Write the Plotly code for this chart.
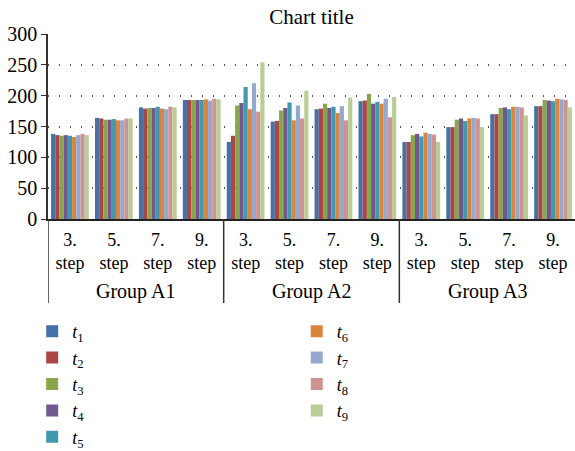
import plotly.graph_objects as go

groups = ["Group A1", "Group A2", "Group A3"]
steps = ["3.<br>step", "5.<br>step", "7.<br>step", "9.<br>step"]
series_names = ["t1", "t2", "t3", "t4", "t5", "t6", "t7", "t8", "t9"]

# values per series: 12 entries (A1: 3,5,7,9 steps; A2: ...; A3: ...)
t1 = [138, 164, 181, 193, 125, 158, 178, 191, 125, 149, 170, 183]
t2 = [136, 163, 179, 193, 135, 159, 179, 192, 125, 149, 170, 183]
t3 = [135, 161, 180, 193, 184, 176, 187, 203, 136, 161, 180, 193]
t4 = [136, 161, 180, 193, 188, 180, 180, 187, 138, 163, 181, 192]
t5 = [135, 162, 182, 193, 214, 189, 182, 190, 134, 159, 178, 191]
t6 = [133, 160, 179, 194, 178, 160, 172, 187, 140, 163, 182, 195]
t7 = [136, 160, 178, 192, 220, 184, 183, 195, 138, 164, 182, 194]
t8 = [138, 163, 182, 195, 174, 163, 160, 165, 137, 163, 181, 193]
t9 = [136, 163, 181, 194, 254, 208, 197, 198, 125, 149, 168, 181]
series_values = [t1, t2, t3, t4, t5, t6, t7, t8, t9]
colors = ["#4572A7", "#AA4643", "#89A54E", "#71588F", "#4198AF",
          "#DB843D", "#93A9CF", "#D19392", "#B9CD96"]
y_ticks = [0, 50, 100, 150, 200, 250, 300]

# unique category keys, one per (group, step)
cat_keys = ["%s|%s" % (g, s) for g in groups for s in steps]
cat_text = [s for _ in groups for s in steps]
n_steps = len(steps)

FONT = "Liberation Serif"
fig = go.Figure()
for i, (name, vals) in enumerate(zip(series_names, series_values)):
    label = "<i>t</i><sub>%s</sub>" % name[1:]
    fig.add_trace(go.Bar(
        x=cat_keys, y=vals, name=label,
        marker=dict(color=colors[i], line=dict(width=0)),
        legend="legend" if i < 5 else "legend2",
    ))

# group labels and dividers below the axis
for gi, g in enumerate(groups):
    center = gi * n_steps + (n_steps - 1) / 2
    fig.add_annotation(x=center, xref="x", y=-0.39, yref="paper",
                       text=g, showarrow=False, yanchor="middle",
                       font=dict(family=FONT, size=20, color="black"))
    edge = gi * n_steps - 0.5
    fig.add_shape(type="line", xref="x", yref="paper", x0=edge, x1=edge,
                  y0=0, y1=-0.454, line=dict(color="#333", width=1.5))

fig.update_layout(
    width=575, height=451,
    margin=dict(l=48, r=0, t=34, b=232, autoexpand=False),
    paper_bgcolor="white", plot_bgcolor="white",
    font=dict(family=FONT, size=18, color="black"),
    barmode="group", bargap=0.14, bargroupgap=0,
    title=dict(text="Chart title", x=0.5, xref="paper", xanchor="center",
               y=0.962, yref="container", yanchor="middle",
               font=dict(family=FONT, size=21)),
    legend=dict(x=-0.030, y=-0.508, xanchor="left", yanchor="top",
                orientation="v", font=dict(family=FONT, size=18),
                tracegroupgap=0, itemwidth=30, bgcolor="rgba(0,0,0,0)"),
    legend2=dict(x=0.472, y=-0.508, xanchor="left", yanchor="top",
                 orientation="v", font=dict(family=FONT, size=18),
                 tracegroupgap=0, itemwidth=30, bgcolor="rgba(0,0,0,0)"),
)
fig.update_yaxes(
    range=[0, 300], tickvals=y_ticks, showgrid=True,
    gridcolor="#555", griddash="1px,10px", gridwidth=1.5,
    showline=True, linecolor="#333", linewidth=1.5,
    ticks="outside", ticklen=5, tickcolor="#333",
    zeroline=False, tickfont=dict(family=FONT, size=20),
)
fig.update_xaxes(
    type="category", range=[-0.5, len(cat_keys) - 0.5],
    tickvals=cat_keys, ticktext=cat_text,
    showline=True, linecolor="#222", linewidth=2,
    ticks="", ticklabelstandoff=3, tickfont=dict(family=FONT, size=18),
)
fig.write_html("out.html", config={"displayModeBar": False},
               post_script="document.body.style.margin='0';")
